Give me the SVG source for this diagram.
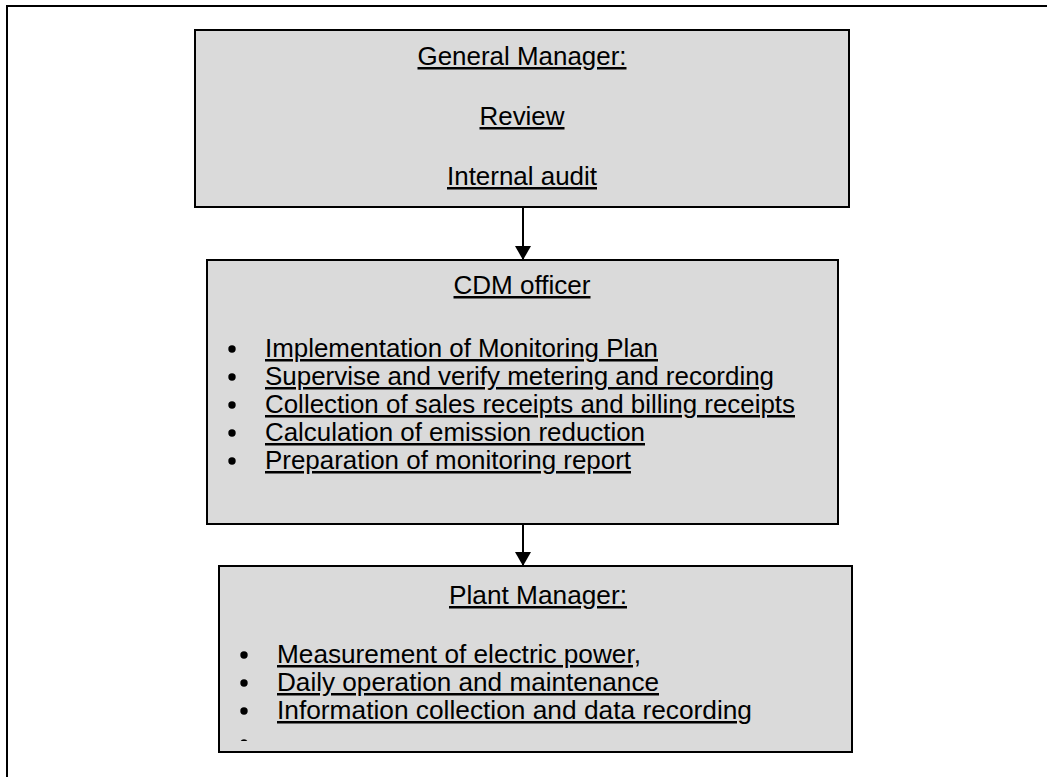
<svg xmlns="http://www.w3.org/2000/svg" width="1047" height="777" viewBox="0 0 1047 777">
<style>
.box{fill:#dadada;stroke:#000;stroke-width:2}
.t{font-family:"Liberation Sans",Arial,sans-serif;font-size:25px;fill:#000;text-decoration:underline}
.c{text-anchor:middle}
.conn{stroke:#000;stroke-width:2;fill:none}
.dot{fill:#000}
</style>
<defs>
<marker id="ah" markerWidth="14" markerHeight="16" refX="14" refY="8" orient="auto" markerUnits="userSpaceOnUse">
<path d="M0,0 L14,8 L0,16 Z" fill="#000"/>
</marker>
<clipPath id="clip3"><rect x="219" y="566" width="633" height="175"/></clipPath>
</defs>
<rect id="frame" x="7" y="6" width="1060" height="800" fill="#fff" stroke="#000" stroke-width="2"/>
<g id="connectors">
<line class="conn" x1="523" y1="207" x2="523" y2="260" marker-end="url(#ah)"/>
<line class="conn" x1="523" y1="524" x2="523" y2="566" marker-end="url(#ah)"/>
</g>
<g id="general-manager">
<rect class="box" x="195" y="30" width="654" height="177"/>
<text class="t c" x="522" y="65" textLength="209" lengthAdjust="spacingAndGlyphs">General Manager:</text>
<text class="t c" x="522" y="125" textLength="85" lengthAdjust="spacingAndGlyphs">Review</text>
<text class="t c" x="522" y="185" textLength="150" lengthAdjust="spacingAndGlyphs">Internal audit</text>
</g>
<g id="cdm-officer">
<rect class="box" x="207" y="260" width="631" height="264"/>
<text class="t c" x="522" y="294" textLength="137" lengthAdjust="spacingAndGlyphs">CDM officer</text>
<circle class="dot" cx="232" cy="349" r="3.7"/>
<circle class="dot" cx="232" cy="377" r="3.7"/>
<circle class="dot" cx="232" cy="405" r="3.7"/>
<circle class="dot" cx="232" cy="433" r="3.7"/>
<circle class="dot" cx="232" cy="461" r="3.7"/>
<text class="t" x="265" y="357" textLength="393" lengthAdjust="spacingAndGlyphs">Implementation of Monitoring Plan</text>
<text class="t" x="265" y="385" textLength="509" lengthAdjust="spacingAndGlyphs">Supervise and verify metering and recording</text>
<text class="t" x="265" y="413" textLength="530" lengthAdjust="spacingAndGlyphs">Collection of sales receipts and billing receipts</text>
<text class="t" x="265" y="441" textLength="380" lengthAdjust="spacingAndGlyphs">Calculation of emission reduction</text>
<text class="t" x="265" y="469" textLength="366" lengthAdjust="spacingAndGlyphs">Preparation of monitoring report</text>
</g>
<g id="plant-manager">
<rect class="box" x="219" y="566" width="633" height="186"/>
<text class="t c" x="538" y="604" textLength="178" lengthAdjust="spacingAndGlyphs">Plant Manager:</text>
<circle class="dot" cx="244" cy="655" r="3.7"/>
<circle class="dot" cx="244" cy="683" r="3.7"/>
<circle class="dot" cx="244" cy="711" r="3.7"/>
<circle class="dot" cx="244" cy="743" r="3.7" clip-path="url(#clip3)"/>
<text class="t" x="277" y="663" textLength="364" lengthAdjust="spacingAndGlyphs">Measurement of electric power,</text>
<text class="t" x="277" y="691" textLength="382" lengthAdjust="spacingAndGlyphs">Daily operation and maintenance</text>
<text class="t" x="277" y="719" textLength="475" lengthAdjust="spacingAndGlyphs">Information collection and data recording</text>
</g>
</svg>
